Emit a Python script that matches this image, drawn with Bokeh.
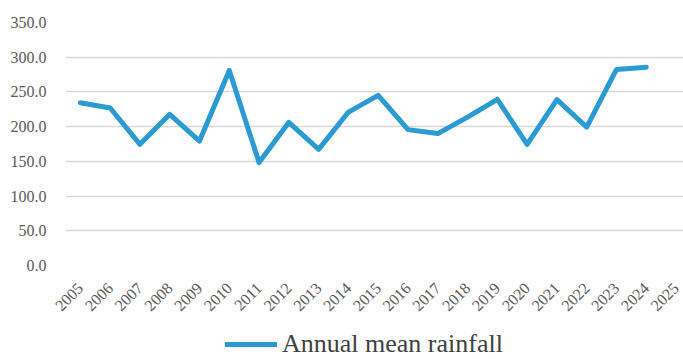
import math
from bokeh.plotting import figure
from bokeh.layouts import column
from bokeh.models import Range1d, FixedTicker, Legend, LegendItem, CustomJSTickFormatter
from bokeh.embed import file_html
from bokeh.resources import INLINE

years = [2005, 2006, 2007, 2008, 2009, 2010, 2011, 2012, 2013, 2014,
         2015, 2016, 2017, 2018, 2019, 2020, 2021, 2022, 2023, 2024]
rainfall = [234.5, 226.8, 174.5, 217.7, 179.3, 281.0, 148.2, 206.2, 167.3, 221.0,
            245.0, 195.7, 190.0, 213.8, 239.3, 174.5, 238.8, 199.4, 282.4, 285.7]
tick_years = list(range(2005, 2026))
y_ticks = [0, 50, 100, 150, 200, 250, 300, 350]
series_name = "Annual mean rainfall"

LINE_COLOR = "#2B9AD5"

p = figure(width=683, height=328, output_backend="svg", toolbar_location=None,
           x_range=Range1d(2004.5, 2025.25), y_range=Range1d(0, 350),
           min_border_left=65, min_border_right=0, min_border_top=22, min_border_bottom=63)
p.outline_line_color = None
p.background_fill_color = "white"
p.border_fill_color = "white"

r = p.line(years, rainfall, line_color=LINE_COLOR, line_width=5, line_join="round", line_cap="round")

p.xgrid.grid_line_color = None
p.ygrid.grid_line_color = "#D9D9D9"
p.ygrid.grid_line_width = 1.5
p.ygrid.ticker = FixedTicker(ticks=y_ticks)

p.yaxis.ticker = FixedTicker(ticks=y_ticks)
p.yaxis.formatter = CustomJSTickFormatter(code="return tick.toFixed(1);")
p.yaxis.axis_line_color = None
p.yaxis.major_tick_line_color = None
p.yaxis.minor_tick_line_color = None
p.yaxis.major_label_standoff = 13
p.yaxis.major_label_text_font = "Liberation Serif"
p.yaxis.major_label_text_font_size = "16px"
p.yaxis.major_label_text_color = "#595959"

p.xaxis.ticker = FixedTicker(ticks=tick_years)
p.xaxis.axis_line_color = None
p.xaxis.major_tick_line_color = None
p.xaxis.minor_tick_line_color = None
p.xaxis.major_label_orientation = math.pi / 4
p.xaxis.major_label_standoff = 14
p.xaxis.major_label_text_font = "Liberation Serif"
p.xaxis.major_label_text_font_size = "16px"
p.xaxis.major_label_text_color = "#595959"

# legend strip below the chart (proxy line is outside this strip's ranges, so only its legend entry shows)
q = figure(width=683, height=31, output_backend="svg", toolbar_location=None,
           x_range=Range1d(0, 1), y_range=Range1d(-2, -1),
           x_axis_location=None, y_axis_location=None,
           min_border_left=0, min_border_right=0, min_border_top=0, min_border_bottom=0)
q.grid.visible = False
q.outline_line_color = None
q.border_fill_color = "white"
q.background_fill_color = "white"
rl = q.line(years, rainfall, line_color=LINE_COLOR, line_width=5, line_cap="round")
legend = Legend(items=[LegendItem(label=series_name, renderers=[rl])],
                location=(160, 0), border_line_color=None, background_fill_alpha=0,
                label_text_font="Liberation Serif", label_text_font_size="26px",
                label_text_color="#404040", glyph_width=52, glyph_height=20,
                label_standoff=5, padding=0, margin=0, spacing=0)
q.add_layout(legend, "center")

layout = column(p, q, spacing=0)
open("out.html", "w").write(file_html(layout, INLINE))
